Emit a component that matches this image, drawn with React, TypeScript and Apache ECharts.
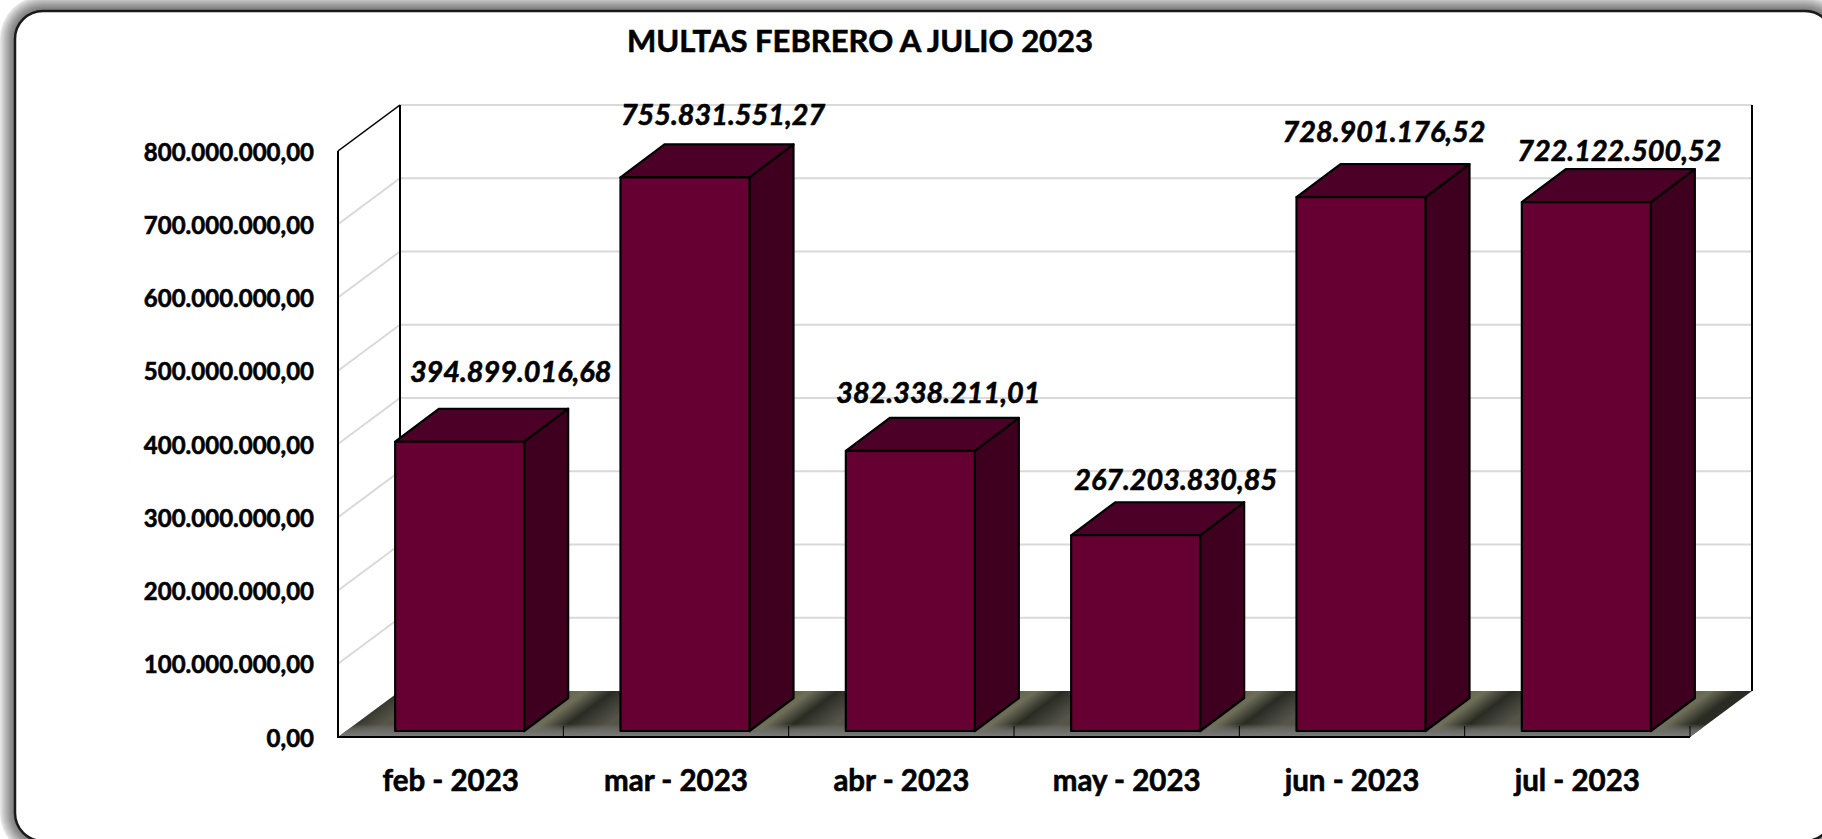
import React, { useEffect, useRef } from "react";
import * as echarts from "echarts";

const title = "MULTAS FEBRERO A JULIO 2023";
const categories = ["feb - 2023", "mar - 2023", "abr - 2023", "may - 2023", "jun - 2023", "jul - 2023"];
const values = [394899016.68, 755831551.27, 382338211.01, 267203830.85, 728901176.52, 722122500.52];
const ticks = [0, 100000000, 200000000, 300000000, 400000000, 500000000, 600000000, 700000000, 800000000];
const labelDx = [51, 38, 28, 40, 23, 33];
const labelDy = [38, 30, 26, 23, 33, 19];

const FONT = "Lato, 'Open Sans', sans-serif";
const WALL_DX = 62;
const WALL_DY = -46;
const BAR_OFF_X = 9;
const BAR_OFF_Y = -6;
const BAR_W = 129;
const BAR_DX = 44;
const BAR_DY = -33;
const PANEL = { x: 15, y: 11, width: 1818, height: 830, r: 28 };
const HEAVY = { textBorderColor: "#000", textBorderWidth: 0.6 };
const fmt = (v: number) =>
  new Intl.NumberFormat("es-ES", { minimumFractionDigits: 2, maximumFractionDigits: 2, useGrouping: true })
    .formatToParts(v)
    .map((p) => (p.type === "group" ? "." : p.type === "decimal" ? "," : p.value))
    .join("");

// Concentric rounded rectangles that stand in for the panel's soft shadow.
const shadowRects = Array.from({ length: 15 }, (_, i) => {
  const k = 15 - i;
  const g = Math.round(120 + Math.pow(k / 15, 1.3) * 110);
  return {
    type: "rect",
    z: -20,
    silent: true,
    shape: { x: PANEL.x - k, y: PANEL.y - k, width: PANEL.width + 2 * k, height: PANEL.height + 2 * k, r: PANEL.r + k },
    style: { fill: `rgb(${g},${g},${g})` },
  };
});

// Diagonal sheen on the chart floor, repeating once per category.
const floorStops = (length: number) => {
  const period = 225;
  const band = [
    [23, "#6e6e58"],
    [50, "#2a2c24"],
    [90, "#55554a"],
    [190, "#4e4e44"],
  ] as const;
  const stops: { offset: number; color: string }[] = [];
  for (let p = 0; p * period < length; p++) {
    band.forEach(([u, color]) => {
      const offset = (u + p * period) / length;
      if (offset <= 1) stops.push({ offset, color });
    });
  }
  return stops;
};

export default function App() {
  const ref = useRef<HTMLDivElement>(null);
  useEffect(() => {
    document.body.style.margin = "0";
    const chart = echarts.init(ref.current!, undefined, { renderer: "svg" });
    const line = { stroke: "#000", lineWidth: 2 };
    chart.setOption({
      animation: false,
      backgroundColor: "#fff",
      title: {
        text: title,
        left: 855,
        top: 19,
        textAlign: "center",
        textStyle: { fontFamily: FONT, fontWeight: "bold", fontSize: 31, color: "#000", ...HEAVY },
      },
      grid: { left: 338, top: 151, width: 1352, height: 586 },
      xAxis: {
        type: "category",
        data: categories,
        axisLine: { show: false },
        axisTick: { show: false },
        axisLabel: { margin: 27, fontFamily: FONT, fontWeight: "bold", fontSize: 29.5, color: "#000", ...HEAVY },
      },
      yAxis: {
        type: "value",
        min: 0,
        max: 800000000,
        interval: 100000000,
        axisLine: { show: false },
        axisTick: { show: false },
        splitLine: { show: false },
        axisLabel: {
          margin: 24,
          fontFamily: FONT,
          fontWeight: "bold",
          fontSize: 24,
          color: "#000",
          ...HEAVY,
          formatter: (v: number) => fmt(v),
        },
      },
      graphic: [
        ...shadowRects,
        {
          type: "rect",
          z: -10,
          silent: true,
          shape: { ...PANEL },
          style: { fill: "#fff", stroke: "#1a1a1a", lineWidth: 2.5 },
        },
      ],
      series: [
        {
          type: "custom",
          coordinateSystem: "cartesian2d",
          data: ticks.map((t) => [0, t]),
          z: 1,
          clip: false,
          renderItem: (p: any, api: any) => {
            const t = api.value(1);
            const y = api.coord([0, t])[1];
            const gs = p.coordSys;
            const x0 = gs.x;
            const x1 = gs.x + gs.width;
            const isFirst = t === ticks[0];
            const isLast = t === ticks[ticks.length - 1];
            const children: any[] = [];
            if (isFirst) {
              const pts = [[x0, y], [x0 + WALL_DX, y + WALL_DY], [x1 + WALL_DX, y + WALL_DY], [x1, y]];
              const L = 1414;
              const k = (L * 46) / (46 * 46 + 62 * 62);
              children.push(
                {
                  type: "polygon",
                  shape: { points: pts },
                  style: {
                    fill: new echarts.graphic.LinearGradient(
                      x0,
                      y + WALL_DY,
                      x0 + 46 * k,
                      y + WALL_DY + 62 * k,
                      floorStops(L),
                      true
                    ),
                  },
                },
                {
                  type: "polygon",
                  shape: { points: pts },
                  style: {
                    fill: new echarts.graphic.LinearGradient(0, 0, 0, 1, [
                      { offset: 0, color: "rgba(120,120,115,0)" },
                      { offset: 0.72, color: "rgba(120,120,115,0)" },
                      { offset: 0.86, color: "rgba(110,110,105,0.9)" },
                      { offset: 1, color: "rgba(125,125,125,1)" },
                    ]),
                  },
                }
              );
            } else {
              children.push({
                type: "polyline",
                shape: { points: [[x0, y], [x0 + WALL_DX, y + WALL_DY], [x1 + WALL_DX, y + WALL_DY]] },
                style: { fill: "none", stroke: "#d9d9d9", lineWidth: 2 },
              });
            }
            if (isLast) {
              const y0 = api.coord([0, ticks[0]])[1];
              children.push(
                { type: "line", shape: { x1: x0, y1: y, x2: x0 + WALL_DX, y2: y + WALL_DY }, style: { stroke: "#000", lineWidth: 1.5 } },
                { type: "line", shape: { x1: x0, y1: y, x2: x0, y2: y0 + 1 }, style: line },
                { type: "line", shape: { x1: x0 + WALL_DX, y1: y + WALL_DY, x2: x0 + WALL_DX, y2: y0 + WALL_DY }, style: line },
                { type: "line", shape: { x1: x1 + WALL_DX, y1: y + WALL_DY, x2: x1 + WALL_DX, y2: y0 + WALL_DY }, style: line },
                { type: "line", shape: { x1: x0, y1: y0, x2: x1, y2: y0 }, style: line }
              );
              categories.forEach((_, i) => {
                const tx = x0 + ((i + 1) * gs.width) / categories.length;
                children.push({ type: "line", shape: { x1: tx, y1: y0, x2: tx, y2: y0 - 11 }, style: { stroke: "#000", lineWidth: 1 } });
              });
            }
            return { type: "group", children };
          },
        },
        {
          type: "custom",
          coordinateSystem: "cartesian2d",
          data: values.map((v, i) => [i, v]),
          z: 2,
          clip: false,
          renderItem: (p: any, api: any) => {
            const [cx, top] = api.coord([api.value(0), api.value(1)]);
            const base = api.coord([api.value(0), 0])[1];
            const l = cx + BAR_OFF_X - BAR_W / 2;
            const r = l + BAR_W;
            const t = top + BAR_OFF_Y;
            const b = base + BAR_OFF_Y;
            const edge = { stroke: "#000", lineWidth: 2.2, lineJoin: "round" };
            return {
              type: "group",
              children: [
                { type: "polygon", shape: { points: [[r, t], [r + BAR_DX, t + BAR_DY], [r + BAR_DX, b + BAR_DY], [r, b]] }, style: { fill: "#3f0020", ...edge } },
                { type: "polygon", shape: { points: [[l, t], [l + BAR_DX, t + BAR_DY], [r + BAR_DX, t + BAR_DY], [r, t]] }, style: { fill: "#4c0027", ...edge } },
                { type: "rect", shape: { x: l, y: t, width: BAR_W, height: b - t }, style: { fill: "#660033", ...edge } },
                {
                  type: "text",
                  x: cx + BAR_OFF_X + labelDx[p.dataIndex],
                  y: t + BAR_DY - labelDy[p.dataIndex],
                  style: {
                    text: fmt(api.value(1)),
                    fontFamily: FONT,
                    fontWeight: "bold",
                    fontStyle: "italic",
                    fontSize: 28.8,
                    fill: "#000",
                    stroke: "#000",
                    lineWidth: 0.6,
                    align: "center",
                    verticalAlign: "middle",
                  },
                },
              ],
            };
          },
        },
      ],
    });
    return () => chart.dispose();
  }, []);
  return <div ref={ref} style={{ width: 1822, height: 839 }} />;
}
